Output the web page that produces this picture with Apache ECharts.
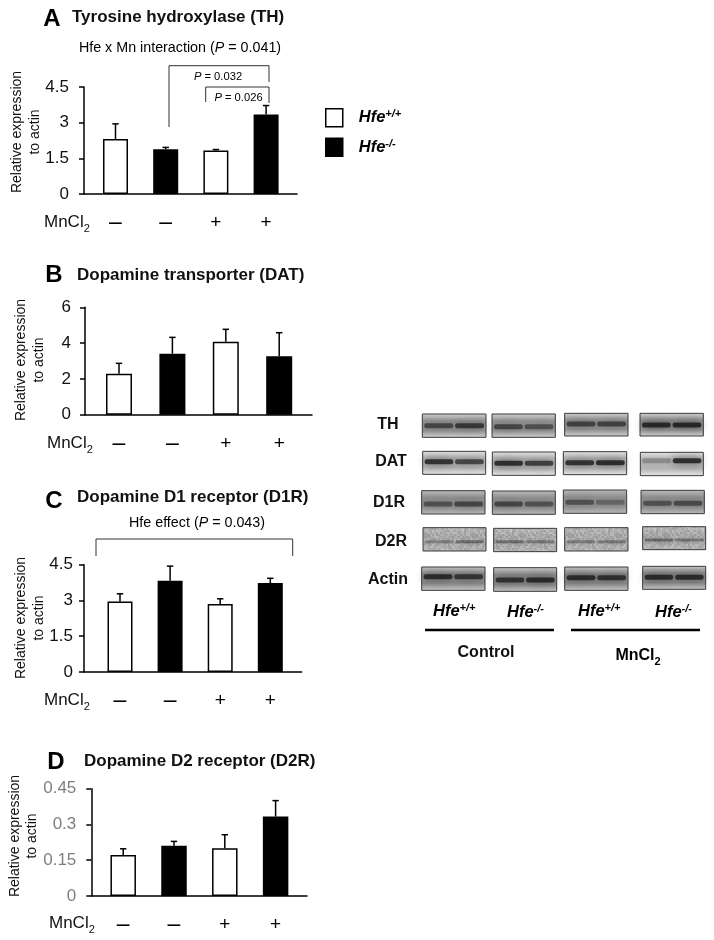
<!DOCTYPE html>
<html><head><meta charset="utf-8">
<style>html,body{margin:0;padding:0;background:#fff}#c{width:714px;height:940px}</style>
<script src="https://cdn.jsdelivr.net/npm/echarts@6/dist/echarts.min.js"></script>
</head><body><div id="c"></div>
<script>
// ---- data
const signs = ['–','–','+','+'];
const seriesNames = ['Hfe+/+','Hfe-/-'];
const thMean  = [2.31,1.88,1.83,3.34];
const thTop   = [2.95,1.96,1.87,3.72];
const datMean = [2.29,3.41,4.08,3.26];
const datTop  = [2.87,4.32,4.77,4.58];
const d1Mean  = [2.96,3.83,2.85,3.73];
const d1Top   = [3.28,4.44,3.07,3.93];
const d2Mean  = [0.172,0.211,0.200,0.333];
const d2Top   = [0.198,0.229,0.257,0.400];
const yMaxes  = [4.5,6,4.5,0.45];
const yStep   = [1.5,2,1.5,0.15];
const yLabels = [['0','1.5','3','4.5'],['0','2','4','6'],['0','1.5','3','4.5'],['0','0.15','0.3','0.45']];
const titles  = ['Tyrosine hydroxylase (TH)','Dopamine transporter (DAT)','Dopamine D1 receptor (D1R)','Dopamine D2 receptor (D2R)'];
const letters = ['A','B','C','D'];
const blotLabels = ['TH','DAT','D1R','D2R','Actin'];

// ---- layout
const FF = '"Liberation Sans", Arial, sans-serif';
const panels = [
 {x0:84,x1:297,top:87,bottom:194,c0:115.5,step:50.2,bw:25,mean:thMean,up:thTop,labelColor:'#111',lm:15,
  letter:[52,19],title:[72,17],yname:[26,132],mn:[44,222]},
 {x0:85,x1:312,top:307.3,bottom:414.7,c0:119,step:53.4,bw:26,mean:datMean,up:datTop,labelColor:'#111',lm:14,
  letter:[54,275],title:[77,275],yname:[30,360],mn:[47,443]},
 {x0:84,x1:301.7,top:564.7,bottom:672,c0:120,step:50.1,bw:25,mean:d1Mean,up:d1Top,labelColor:'#111',lm:11,
  letter:[54,501],title:[77,497],yname:[30,618],mn:[44,700]},
 {x0:91.3,x1:307,top:788.7,bottom:896,c0:123.2,step:50.8,bw:25.5,mean:d2Mean,up:d2Top,labelColor:'#7f7f7f',lm:15,
  letter:[56,762],title:[84,761],yname:[23.5,836],mn:[49,923]}
];

const grids=[],xAxes=[],yAxes=[],series=[],gfx=[];
const supRich = {
  h:{fontFamily:FF,fontWeight:'bold',fontStyle:'italic',fontSize:16.5,color:'#000'},
  s:{fontFamily:FF,fontWeight:'bold',fontStyle:'italic',fontSize:11,color:'#000',verticalAlign:'top',lineHeight:18}
};
const hfeFmt = n => '{h|Hfe}{s|'+n.slice(3)+'}';

panels.forEach((p,i)=>{
  grids.push({left:p.x0,width:p.x1-p.x0,top:p.top,height:p.bottom-p.top});
  xAxes.push({gridIndex:i,type:'value',min:(p.x0-p.c0)/p.step,max:(p.x1-p.c0)/p.step,
    splitLine:{show:false},axisTick:{show:false},
    axisLine:{onZero:false,lineStyle:{color:'#000',width:1.5}},
    axisLabel:{customValues:[0,1,2,3],margin:17,
      formatter:(v)=>{const s=signs[Math.round(v)];return s==='+'?'{p|+}':'{m|–}';},
      rich:{p:{fontFamily:FF,fontSize:19,color:'#000',lineHeight:24},m:{fontFamily:FF,fontSize:23,color:'#000',lineHeight:24}}}});
  yAxes.push({gridIndex:i,type:'value',min:0,max:yMaxes[i],interval:yStep[i],
    splitLine:{show:false},
    axisLine:{show:true,onZero:false,lineStyle:{color:'#000',width:1.5}},
    axisTick:{show:true,inside:false,length:5,lineStyle:{color:'#000',width:1.5}},
    axisLabel:{margin:p.lm,fontFamily:FF,fontSize:17,color:p.labelColor,
      formatter:(v)=>{const k=Math.round(v/yStep[i]);return yLabels[i][k];}}});
  seriesNames.forEach((nm,j)=>{
    series.push({name:nm,type:'bar',xAxisIndex:i,yAxisIndex:i,barWidth:p.bw,barGap:'-100%',
      itemStyle:{color:j?'#000':'#fff',borderColor:'#000',borderWidth:1.5},
      data:p.mean.map((v,k)=>[k,v]).filter(d=>d[0]%2===j)});
  });
  series.push({type:'custom',xAxisIndex:i,yAxisIndex:i,silent:true,clip:false,z:1,
    data:p.mean.map((v,k)=>[k,v,p.up[k]]),encode:{x:0,y:[1,2]},
    renderItem:(params,api)=>{
      const a=api.coord([api.value(0),api.value(1)]),b=api.coord([api.value(0),api.value(2)]);
      const st={stroke:'#000',lineWidth:1.5};
      return {type:'group',children:[
        {type:'line',shape:{x1:a[0],y1:a[1],x2:b[0],y2:b[1]},style:st},
        {type:'line',shape:{x1:b[0]-3.2,y1:b[1],x2:b[0]+3.2,y2:b[1]},style:st}]};
    }});
  // panel text
  gfx.push({type:'text',x:p.letter[0],y:p.letter[1],style:{text:letters[i],font:'bold 24px '+FF,fill:'#000',textAlign:'center',textVerticalAlign:'middle'}});
  gfx.push({type:'text',x:p.title[0],y:p.title[1],style:{text:titles[i],font:'bold 17px '+FF,fill:'#111',textAlign:'left',textVerticalAlign:'middle'}});
  gfx.push({type:'text',x:p.yname[0],y:p.yname[1],rotation:Math.PI/2,style:{text:'Relative expression\nto actin',font:'14px '+FF,fill:'#111',lineHeight:17.5,textAlign:'center',textVerticalAlign:'middle'}});
  gfx.push({type:'text',x:p.mn[0],y:p.mn[1],style:{text:'{a|MnCl}{b|2}',textVerticalAlign:'middle',
    rich:{a:{fontFamily:FF,fontSize:17,fill:'#111',color:'#111'},b:{fontFamily:FF,fontSize:11,color:'#111',fill:'#111',verticalAlign:'bottom',lineHeight:24}}}});
});

// annotations
const pRich = {
  t:{fontFamily:FF,fontSize:14.3,color:'#222'},i:{fontFamily:FF,fontSize:14.3,fontStyle:'italic',color:'#222'},
  u:{fontFamily:FF,fontSize:11.2,color:'#222'},v:{fontFamily:FF,fontSize:11.2,fontStyle:'italic',color:'#222'}
};
function note(x,y,txt){gfx.push({type:'text',x,y,style:{text:txt,rich:pRich,textAlign:'center',textVerticalAlign:'middle'}});}
function bracket(pts){gfx.push({type:'polyline',shape:{points:pts},style:{stroke:'#333',lineWidth:1,fill:null}});}
note(180,48,'{t|Hfe x Mn interaction (}{i|P}{t| = 0.041)}');
note(218,77,'{v|P}{u| = 0.032}');
note(238.5,98,'{v|P}{u| = 0.026}');
note(197,523,'{t|Hfe effect (}{i|P}{t| = 0.043)}');
bracket([[169,127],[169,65.7],[269,65.7],[269,82]]);
bracket([[205.7,102],[205.7,87],[269,87],[269,103]]);
bracket([[96,556],[96,539],[292.7,539],[292.7,556]]);

// western blot montage
const blotPanels=[
 [[217,408,42,112,77,.7,.85],[426,616,42,112,80,.72,.62],[644,834,40,108,72,.75,.75],[870,1060,40,108,75,1,1]],
 [[218,407,154,223,185,.95,.8],[427,616,156,226,190,.98,.85],[640,830,155,224,188,.95,1],[871,1060,157,227,182,.3,.98]],
 [[215,405,272,342,312,.6,.7],[427,616,273,343,312,.7,.6],[640,830,270,340,307,.6,.4],[873,1063,271,341,310,.6,.65]],
 [[219,408,383,453,425,.35,.5],[431,620,385,455,425,.5,.42],[644,834,383,453,425,.38,.42],[878,1067,380,449,420,.55,.45]],
 [[215,405,501,571,530,.95,.85],[431,620,503,574,540,.88,.95],[644,834,501,571,533,.95,.9],[878,1067,499,568,532,.95,.95]]
];
const blotBg=[['#cfcfcf','#929292'],['#e4e4e4','#b4b4b4'],['#b8b8b8','#909090'],['#b4b4b4','#a8a8a8'],['#c4c4c4','#8a8a8a']];
const blotLabelPos=[[388,425],[391,462],[389,503],[391,542],[388,580]];
const X=v=>350+v/3,Y=v=>400+v/3;
// low-contrast film grain for the D2R strip, a fixed texture
const grain=document.createElement('canvas');grain.width=48;grain.height=24;
(()=>{const g=grain.getContext('2d');for(let a=0;a<48;a+=2)for(let b=0;b<24;b+=2){
  const n=Math.abs(Math.sin(a*12.9898+b*78.233)*43758.5453)%1;
  g.fillStyle=n>.5?'rgba(255,255,255,'+(n-.5)*.5+')':'rgba(60,60,60,'+(.5-n)*.25+')';g.fillRect(a,b,2,2);}})();
blotPanels.forEach((row,r)=>{
  row.forEach(b=>{
    const x=X(b[0]),w=(b[1]-b[0])/3,y=Y(b[2]),h=(b[3]-b[2])/3,by=Y(b[4]);
    gfx.push({type:'rect',shape:{x,y,width:w,height:h},style:{
      fill:new echarts.graphic.LinearGradient(0,0,0,1,[{offset:0,color:blotBg[r][0]},{offset:.3,color:blotBg[r][1]},{offset:.7,color:blotBg[r][1]},{offset:1,color:blotBg[r][0]}])}});
    if(r===3) gfx.push({type:'rect',shape:{x,y,width:w,height:h},style:{fill:{image:grain,repeat:'repeat'}}});
    [0,1].forEach(l=>{
      const d=b[5+l],lw=w/2-3,lx=x+2+l*(w/2-1);
      const c='rgba(20,20,20,'+d*.8+')';
      gfx.push({type:'rect',shape:{x:lx,y:by-(r===3?1.5:2.5),width:lw,height:r===3?3:5,r:2},
        style:{fill:c,shadowBlur:9,shadowColor:c}});
    });
    gfx.push({type:'rect',shape:{x,y,width:w,height:h},style:{fill:null,stroke:'#3a3a3a',lineWidth:1}});
  });
  gfx.push({type:'text',x:blotLabelPos[r][0],y:blotLabelPos[r][1],style:{text:blotLabels[r],font:'bold 16px '+FF,fill:'#111',textAlign:'center',textVerticalAlign:'middle'}});
});
[[433,611,0],[507,612,1],[578,611,0],[655,612,1]].forEach(h=>{
  gfx.push({type:'text',x:h[0],y:h[1],style:{text:hfeFmt(seriesNames[h[2]]),rich:supRich,textVerticalAlign:'middle'}});
});
[[425,554],[571,700]].forEach(l=>gfx.push({type:'line',shape:{x1:l[0],y1:630,x2:l[1],y2:630},style:{stroke:'#000',lineWidth:2.5}}));
gfx.push({type:'text',x:486,y:653,style:{text:'Control',font:'bold 16px '+FF,fill:'#111',textAlign:'center',textVerticalAlign:'middle'}});
gfx.push({type:'text',x:638,y:656,style:{text:'{a|MnCl}{b|2}',textAlign:'center',textVerticalAlign:'middle',
  rich:{a:{fontFamily:FF,fontSize:16,fontWeight:'bold',color:'#111'},b:{fontFamily:FF,fontSize:11,fontWeight:'bold',color:'#111',verticalAlign:'bottom',lineHeight:22}}}});

const chart=echarts.init(document.getElementById('c'),null,{renderer:'canvas'});
chart.setOption({
  animation:false,backgroundColor:'#fff',
  legend:{left:320,top:103,orient:'vertical',icon:'rect',itemWidth:17,itemHeight:18,itemGap:10,selectedMode:false,
    data:seriesNames,formatter:hfeFmt,
    itemStyle:{borderColor:'#000',borderWidth:1.5},
    textStyle:{padding:[0,0,0,11],rich:supRich}},
  grid:grids,xAxis:xAxes,yAxis:yAxes,series,graphic:gfx
});
</script></body></html>
